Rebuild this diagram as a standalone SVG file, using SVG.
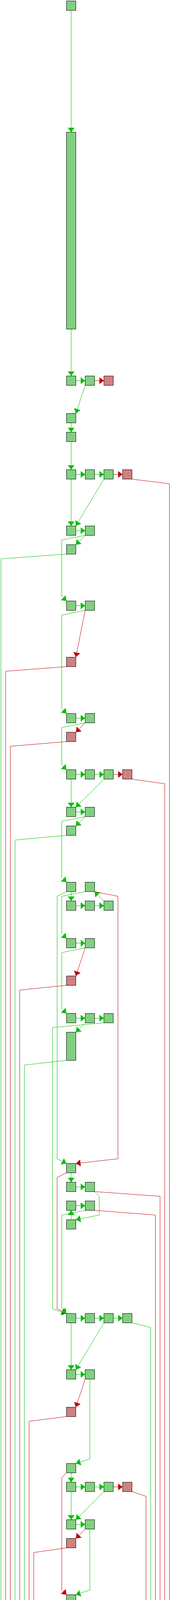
<svg xmlns="http://www.w3.org/2000/svg" width="436" height="6604" viewBox="0 0 436 6604">
<style>
.g{fill:#80d080;stroke:#000;stroke-width:1}
.r{fill:#d08080;stroke:#000;stroke-width:1}
.eg{fill:none;stroke:#00c000;stroke-width:1;marker-end:url(#ag)}
.er{fill:none;stroke:#c00000;stroke-width:1;marker-end:url(#ar)}
</style>
<defs>
<marker id="ag" markerUnits="userSpaceOnUse" markerWidth="12" markerHeight="18" refX="12" refY="9" orient="auto" viewBox="0 0 12 18"><path d="M0,0L12,9L0,18z" fill="#00c000"/></marker>
<marker id="ar" markerUnits="userSpaceOnUse" markerWidth="12" markerHeight="18" refX="12" refY="9" orient="auto" viewBox="0 0 12 18"><path d="M0,0L12,9L0,18z" fill="#c00000"/></marker>
</defs>
<rect x="0" y="0" width="436" height="6604" fill="#fff"/>
<g id="connectors">
<path class="eg" d="M182.5,26.5V338.5"/>
<path class="eg" d="M182.5,842.5V962.5"/>
<path class="eg" d="M194.5,974.5H218.5"/>
<path class="er" d="M242.5,974.5H266.5"/>
<path class="eg" d="M218.5,986.5L194.5,1058.5"/>
<path class="eg" d="M182.5,1082.5V1106.5"/>
<path class="eg" d="M182.5,1130.5V1202.5"/>
<path class="eg" d="M194.5,1214.5H218.5"/>
<path class="eg" d="M242.5,1214.5H266.5"/>
<path class="er" d="M290.5,1214.5H314.5"/>
<path class="er" d="M338.5,1226.5L434.5,1238.5V6038.5L194.5,6050.5"/>
<path class="eg" d="M182.5,1226.5V1346.5"/>
<path class="eg" d="M266.5,1226.5L194.5,1346.5"/>
<path class="eg" d="M194.5,1358.5H218.5"/>
<path class="eg" d="M218.5,1370.5L194.5,1394.5"/>
<path class="eg" d="M218.5,1370.5L158.5,1382.5V1526.5L170.5,1538.5"/>
<path class="eg" d="M170.5,1418.5L2.5,1430.5V6038.5L170.5,6050.5"/>
<path class="eg" d="M194.5,1550.5H218.5"/>
<path class="er" d="M218.5,1562.5L194.5,1682.5"/>
<path class="eg" d="M218.5,1562.5L158.5,1574.5V1814.5L170.5,1826.5"/>
<path class="er" d="M170.5,1706.5L14.5,1718.5V6038.5L170.5,6050.5"/>
<path class="eg" d="M194.5,1838.5H218.5"/>
<path class="er" d="M218.5,1850.5L194.5,1874.5"/>
<path class="eg" d="M218.5,1850.5L158.5,1862.5V1958.5L170.5,1970.5"/>
<path class="er" d="M170.5,1898.5L26.5,1910.5V6038.5L170.5,6050.5"/>
<path class="eg" d="M194.5,1982.5H218.5"/>
<path class="eg" d="M242.5,1982.5H266.5"/>
<path class="er" d="M290.5,1982.5H314.5"/>
<path class="er" d="M338.5,1994.5L422.5,2006.5V6038.5L194.5,6050.5"/>
<path class="eg" d="M182.5,1994.5V2066.5"/>
<path class="eg" d="M266.5,1994.5L194.5,2066.5"/>
<path class="eg" d="M194.5,2078.5H218.5"/>
<path class="eg" d="M218.5,2090.5L194.5,2114.5"/>
<path class="eg" d="M218.5,2090.5L158.5,2102.5V2246.5L170.5,2258.5"/>
<path class="eg" d="M170.5,2138.5L38.5,2150.5V6038.5L170.5,6050.5"/>
<path class="eg" d="M182.5,2282.5V2306.5"/>
<path class="eg" d="M194.5,2318.5H218.5"/>
<path class="eg" d="M242.5,2318.5H266.5"/>
<path class="eg" d="M266.5,2306.5L242.5,2282.5"/>
<path class="eg" d="M170.5,2282.5L146.5,2294.5V2966.5L170.5,2978.5"/>
<path class="eg" d="M218.5,2282.5L158.5,2294.5V2390.5L170.5,2402.5"/>
<path class="er" d="M242.5,2282.5L302.5,2294.5V2966.5L194.5,2978.5"/>
<path class="eg" d="M194.5,2414.5H218.5"/>
<path class="er" d="M218.5,2426.5L194.5,2498.5"/>
<path class="eg" d="M218.5,2426.5L158.5,2438.5V2582.5L170.5,2594.5"/>
<path class="er" d="M170.5,2522.5L50.5,2534.5V6038.5L170.5,6050.5"/>
<path class="eg" d="M194.5,2606.5H218.5"/>
<path class="eg" d="M242.5,2606.5H266.5"/>
<path class="eg" d="M218.5,2618.5L194.5,2642.5"/>
<path class="eg" d="M266.5,2618.5L134.5,2630.5V3350.5L170.5,3362.5"/>
<path class="eg" d="M170.5,2714.5L62.5,2726.5V6038.5L170.5,6050.5"/>
<path class="eg" d="M182.5,3002.5V3026.5"/>
<path class="er" d="M170.5,3002.5L146.5,3014.5V3350.5L170.5,3362.5"/>
<path class="eg" d="M194.5,3038.5H218.5"/>
<path class="er" d="M242.5,3050.5L410.5,3062.5V6038.5L194.5,6050.5"/>
<path class="eg" d="M242.5,3050.5L254.5,3062.5V3110.5L194.5,3122.5"/>
<path class="eg" d="M194.5,3086.5H218.5"/>
<path class="eg" d="M182.5,3122.5V3098.5"/>
<path class="eg" d="M218.5,3098.5L158.5,3110.5V3350.5L170.5,3362.5"/>
<path class="er" d="M242.5,3098.5L398.5,3110.5V6038.5L194.5,6050.5"/>
<path class="eg" d="M194.5,3374.5H218.5"/>
<path class="eg" d="M242.5,3374.5H266.5"/>
<path class="eg" d="M290.5,3374.5H314.5"/>
<path class="eg" d="M338.5,3386.5L386.5,3398.5V6038.5L194.5,6050.5"/>
<path class="eg" d="M182.5,3386.5V3506.5"/>
<path class="eg" d="M266.5,3386.5L194.5,3506.5"/>
<path class="eg" d="M194.5,3518.5H218.5"/>
<path class="er" d="M218.5,3530.5L194.5,3602.5"/>
<path class="eg" d="M230.5,3530.5V3734.5L194.5,3746.5"/>
<path class="er" d="M170.5,3626.5L74.5,3638.5V6038.5L170.5,6050.5"/>
<path class="eg" d="M182.5,3770.5V3794.5"/>
<path class="er" d="M170.5,3770.5L158.5,3782.5V4070.5L170.5,4082.5"/>
<path class="eg" d="M194.5,3806.5H218.5"/>
<path class="eg" d="M242.5,3806.5H266.5"/>
<path class="er" d="M290.5,3806.5H314.5"/>
<path class="er" d="M338.5,3818.5L374.5,3830.5V6038.5L194.5,6050.5"/>
<path class="eg" d="M182.5,3818.5V3890.5"/>
<path class="eg" d="M266.5,3818.5L194.5,3890.5"/>
<path class="eg" d="M194.5,3902.5H218.5"/>
<path class="er" d="M218.5,3914.5L194.5,3938.5"/>
<path class="eg" d="M230.5,3914.5V4070.5L194.5,4082.5"/>
<path class="er" d="M170.5,3962.5L86.5,3974.5V6038.5L170.5,6050.5"/>
<path class="eg" d="M182.5,4106.5V4130.5"/>
<path class="er" d="M170.5,4106.5L158.5,4118.5V4886.5L170.5,4898.5"/>
<path class="eg" d="M182.5,4154.5V4226.5"/>
<path class="eg" d="M194.5,4238.5H218.5"/>
<path class="eg" d="M242.5,4238.5H266.5"/>
<path class="er" d="M290.5,4238.5H314.5"/>
<path class="er" d="M338.5,4250.5L362.5,4262.5V6038.5L194.5,6050.5"/>
<path class="eg" d="M182.5,4250.5V4322.5"/>
<path class="eg" d="M266.5,4250.5L194.5,4322.5"/>
<path class="eg" d="M194.5,4334.5H218.5"/>
<path class="eg" d="M218.5,4346.5L194.5,4370.5"/>
<path class="eg" d="M230.5,4346.5V4454.5L194.5,4466.5"/>
<path class="eg" d="M170.5,4394.5L98.5,4406.5V6038.5L170.5,6050.5"/>
<path class="eg" d="M182.5,4490.5V4898.5"/>
<path class="eg" d="M194.5,4910.5H218.5"/>
<path class="eg" d="M218.5,4922.5L194.5,4946.5"/>
<path class="eg" d="M230.5,4922.5V5222.5L194.5,5234.5"/>
<path class="eg" d="M182.5,4970.5V5234.5"/>
<path class="eg" d="M182.5,5258.5V5330.5"/>
<path class="eg" d="M194.5,5342.5H218.5"/>
<path class="eg" d="M242.5,5342.5H266.5"/>
<path class="er" d="M290.5,5342.5H314.5"/>
<path class="er" d="M338.5,5354.5L350.5,5366.5V6038.5L194.5,6050.5"/>
<path class="eg" d="M182.5,5354.5V5426.5"/>
<path class="eg" d="M266.5,5354.5L194.5,5426.5"/>
<path class="eg" d="M194.5,5438.5H218.5"/>
<path class="eg" d="M218.5,5450.5L194.5,5474.5"/>
<path class="eg" d="M218.5,5450.5L158.5,5462.5V5558.5L170.5,5570.5"/>
<path class="eg" d="M170.5,5498.5L110.5,5510.5V6038.5L170.5,6050.5"/>
<path class="eg" d="M194.5,5582.5H218.5"/>
<path class="eg" d="M242.5,5582.5H266.5"/>
<path class="er" d="M170.5,5594.5L146.5,5606.5V5798.5L170.5,5810.5"/>
<path class="eg" d="M266.5,5594.5L134.5,5606.5V5798.5L170.5,5810.5"/>
<path class="eg" d="M266.5,5594.5L194.5,5618.5"/>
<path class="eg" d="M194.5,5630.5H218.5"/>
<path class="er" d="M218.5,5642.5L194.5,5666.5"/>
<path class="eg" d="M218.5,5642.5L158.5,5654.5V5798.5L170.5,5810.5"/>
<path class="er" d="M170.5,5690.5L122.5,5702.5V6038.5L170.5,6050.5"/>
<path class="eg" d="M194.5,5822.5H218.5"/>
<path class="eg" d="M242.5,5822.5H266.5"/>
<path class="er" d="M290.5,5822.5H314.5"/>
<path class="er" d="M326.5,5834.5V6038.5L194.5,6050.5"/>
<path class="eg" d="M182.5,5834.5V5906.5"/>
<path class="eg" d="M266.5,5834.5L194.5,5906.5"/>
<path class="eg" d="M182.5,5930.5V6050.5"/>
<path class="eg" d="M182.5,6074.5V6098.5"/>
<path class="eg" d="M182.5,6122.5V6146.5"/>
<path class="eg" d="M182.5,6170.5V6194.5"/>
<path class="eg" d="M182.5,6218.5V6242.5"/>
<path class="eg" d="M182.5,6266.5V6290.5"/>
<path class="eg" d="M182.5,6314.5V6338.5"/>
<path class="eg" d="M182.5,6362.5V6386.5"/>
<path class="eg" d="M182.5,6410.5V6434.5"/>
<path class="eg" d="M182.5,6458.5V6482.5"/>
<path class="eg" d="M182.5,6506.5V6530.5"/>
<path class="eg" d="M182.5,6554.5V6578.5"/>
</g>
<g id="nodes">
<g id="n0"><rect class="g" x="170.5" y="2.5" width="24" height="24"/></g>
<g id="n7"><rect class="g" x="170.5" y="338.5" width="24" height="504"/></g>
<g id="n20a"><rect class="g" x="170.5" y="962.5" width="24" height="24"/></g>
<g id="n20b"><rect class="g" x="218.5" y="962.5" width="24" height="24"/></g>
<g id="n20c"><rect class="r" x="266.5" y="962.5" width="24" height="24"/></g>
<g id="n22"><rect class="g" x="170.5" y="1058.5" width="24" height="24"/></g>
<g id="n23"><rect class="g" x="170.5" y="1106.5" width="24" height="24"/></g>
<g id="n25a"><rect class="g" x="170.5" y="1202.5" width="24" height="24"/></g>
<g id="n25b"><rect class="g" x="218.5" y="1202.5" width="24" height="24"/></g>
<g id="n25c"><rect class="g" x="266.5" y="1202.5" width="24" height="24"/></g>
<g id="n25d"><rect class="r" x="314.5" y="1202.5" width="24" height="24"/></g>
<g id="n28a"><rect class="g" x="170.5" y="1346.5" width="24" height="24"/></g>
<g id="n28b"><rect class="g" x="218.5" y="1346.5" width="24" height="24"/></g>
<g id="n29"><rect class="g" x="170.5" y="1394.5" width="24" height="24"/></g>
<g id="n32a"><rect class="g" x="170.5" y="1538.5" width="24" height="24"/></g>
<g id="n32b"><rect class="g" x="218.5" y="1538.5" width="24" height="24"/></g>
<g id="n35"><rect class="r" x="170.5" y="1682.5" width="24" height="24"/></g>
<g id="n38a"><rect class="g" x="170.5" y="1826.5" width="24" height="24"/></g>
<g id="n38b"><rect class="g" x="218.5" y="1826.5" width="24" height="24"/></g>
<g id="n39"><rect class="r" x="170.5" y="1874.5" width="24" height="24"/></g>
<g id="n41a"><rect class="g" x="170.5" y="1970.5" width="24" height="24"/></g>
<g id="n41b"><rect class="g" x="218.5" y="1970.5" width="24" height="24"/></g>
<g id="n41c"><rect class="g" x="266.5" y="1970.5" width="24" height="24"/></g>
<g id="n41d"><rect class="r" x="314.5" y="1970.5" width="24" height="24"/></g>
<g id="n43a"><rect class="g" x="170.5" y="2066.5" width="24" height="24"/></g>
<g id="n43b"><rect class="g" x="218.5" y="2066.5" width="24" height="24"/></g>
<g id="n44"><rect class="g" x="170.5" y="2114.5" width="24" height="24"/></g>
<g id="n47a"><rect class="g" x="170.5" y="2258.5" width="24" height="24"/></g>
<g id="n47b"><rect class="g" x="218.5" y="2258.5" width="24" height="24"/></g>
<g id="n48a"><rect class="g" x="170.5" y="2306.5" width="24" height="24"/></g>
<g id="n48b"><rect class="g" x="218.5" y="2306.5" width="24" height="24"/></g>
<g id="n48c"><rect class="g" x="266.5" y="2306.5" width="24" height="24"/></g>
<g id="n50a"><rect class="g" x="170.5" y="2402.5" width="24" height="24"/></g>
<g id="n50b"><rect class="g" x="218.5" y="2402.5" width="24" height="24"/></g>
<g id="n52"><rect class="r" x="170.5" y="2498.5" width="24" height="24"/></g>
<g id="n54a"><rect class="g" x="170.5" y="2594.5" width="24" height="24"/></g>
<g id="n54b"><rect class="g" x="218.5" y="2594.5" width="24" height="24"/></g>
<g id="n54c"><rect class="g" x="266.5" y="2594.5" width="24" height="24"/></g>
<g id="n55"><rect class="g" x="170.5" y="2642.5" width="24" height="72"/></g>
<g id="n62"><rect class="g" x="170.5" y="2978.5" width="24" height="24"/></g>
<g id="n63a"><rect class="g" x="170.5" y="3026.5" width="24" height="24"/></g>
<g id="n63b"><rect class="g" x="218.5" y="3026.5" width="24" height="24"/></g>
<g id="n64a"><rect class="g" x="170.5" y="3074.5" width="24" height="24"/></g>
<g id="n64b"><rect class="g" x="218.5" y="3074.5" width="24" height="24"/></g>
<g id="n65"><rect class="g" x="170.5" y="3122.5" width="24" height="24"/></g>
<g id="n70a"><rect class="g" x="170.5" y="3362.5" width="24" height="24"/></g>
<g id="n70b"><rect class="g" x="218.5" y="3362.5" width="24" height="24"/></g>
<g id="n70c"><rect class="g" x="266.5" y="3362.5" width="24" height="24"/></g>
<g id="n70d"><rect class="g" x="314.5" y="3362.5" width="24" height="24"/></g>
<g id="n73a"><rect class="g" x="170.5" y="3506.5" width="24" height="24"/></g>
<g id="n73b"><rect class="g" x="218.5" y="3506.5" width="24" height="24"/></g>
<g id="n75"><rect class="r" x="170.5" y="3602.5" width="24" height="24"/></g>
<g id="n78"><rect class="g" x="170.5" y="3746.5" width="24" height="24"/></g>
<g id="n79a"><rect class="g" x="170.5" y="3794.5" width="24" height="24"/></g>
<g id="n79b"><rect class="g" x="218.5" y="3794.5" width="24" height="24"/></g>
<g id="n79c"><rect class="g" x="266.5" y="3794.5" width="24" height="24"/></g>
<g id="n79d"><rect class="r" x="314.5" y="3794.5" width="24" height="24"/></g>
<g id="n81a"><rect class="g" x="170.5" y="3890.5" width="24" height="24"/></g>
<g id="n81b"><rect class="g" x="218.5" y="3890.5" width="24" height="24"/></g>
<g id="n82"><rect class="r" x="170.5" y="3938.5" width="24" height="24"/></g>
<g id="n85"><rect class="g" x="170.5" y="4082.5" width="24" height="24"/></g>
<g id="n86"><rect class="g" x="170.5" y="4130.5" width="24" height="24"/></g>
<g id="n88a"><rect class="g" x="170.5" y="4226.5" width="24" height="24"/></g>
<g id="n88b"><rect class="g" x="218.5" y="4226.5" width="24" height="24"/></g>
<g id="n88c"><rect class="g" x="266.5" y="4226.5" width="24" height="24"/></g>
<g id="n88d"><rect class="r" x="314.5" y="4226.5" width="24" height="24"/></g>
<g id="n90a"><rect class="g" x="170.5" y="4322.5" width="24" height="24"/></g>
<g id="n90b"><rect class="g" x="218.5" y="4322.5" width="24" height="24"/></g>
<g id="n91"><rect class="g" x="170.5" y="4370.5" width="24" height="24"/></g>
<g id="n93"><rect class="g" x="170.5" y="4466.5" width="24" height="24"/></g>
<g id="n102a"><rect class="g" x="170.5" y="4898.5" width="24" height="24"/></g>
<g id="n102b"><rect class="g" x="218.5" y="4898.5" width="24" height="24"/></g>
<g id="n103"><rect class="g" x="170.5" y="4946.5" width="24" height="24"/></g>
<g id="n109"><rect class="g" x="170.5" y="5234.5" width="24" height="24"/></g>
<g id="n111a"><rect class="g" x="170.5" y="5330.5" width="24" height="24"/></g>
<g id="n111b"><rect class="g" x="218.5" y="5330.5" width="24" height="24"/></g>
<g id="n111c"><rect class="g" x="266.5" y="5330.5" width="24" height="24"/></g>
<g id="n111d"><rect class="r" x="314.5" y="5330.5" width="24" height="24"/></g>
<g id="n113a"><rect class="g" x="170.5" y="5426.5" width="24" height="24"/></g>
<g id="n113b"><rect class="g" x="218.5" y="5426.5" width="24" height="24"/></g>
<g id="n114"><rect class="g" x="170.5" y="5474.5" width="24" height="24"/></g>
<g id="n116a"><rect class="g" x="170.5" y="5570.5" width="24" height="24"/></g>
<g id="n116b"><rect class="g" x="218.5" y="5570.5" width="24" height="24"/></g>
<g id="n116c"><rect class="g" x="266.5" y="5570.5" width="24" height="24"/></g>
<g id="n117a"><rect class="g" x="170.5" y="5618.5" width="24" height="24"/></g>
<g id="n117b"><rect class="g" x="218.5" y="5618.5" width="24" height="24"/></g>
<g id="n118"><rect class="r" x="170.5" y="5666.5" width="24" height="24"/></g>
<g id="n121a"><rect class="g" x="170.5" y="5810.5" width="24" height="24"/></g>
<g id="n121b"><rect class="g" x="218.5" y="5810.5" width="24" height="24"/></g>
<g id="n121c"><rect class="g" x="266.5" y="5810.5" width="24" height="24"/></g>
<g id="n121d"><rect class="r" x="314.5" y="5810.5" width="24" height="24"/></g>
<g id="n123"><rect class="g" x="170.5" y="5906.5" width="24" height="24"/></g>
<g id="n126"><rect class="g" x="170.5" y="6050.5" width="24" height="24"/></g>
<g id="n127"><rect class="g" x="170.5" y="6098.5" width="24" height="24"/></g>
<g id="n128"><rect class="g" x="170.5" y="6146.5" width="24" height="24"/></g>
<g id="n129"><rect class="g" x="170.5" y="6194.5" width="24" height="24"/></g>
<g id="n130"><rect class="g" x="170.5" y="6242.5" width="24" height="24"/></g>
<g id="n131"><rect class="g" x="170.5" y="6290.5" width="24" height="24"/></g>
<g id="n132"><rect class="g" x="170.5" y="6338.5" width="24" height="24"/></g>
<g id="n133"><rect class="g" x="170.5" y="6386.5" width="24" height="24"/></g>
<g id="n134"><rect class="g" x="170.5" y="6434.5" width="24" height="24"/></g>
<g id="n135"><rect class="g" x="170.5" y="6482.5" width="24" height="24"/></g>
<g id="n136"><rect class="g" x="170.5" y="6530.5" width="24" height="24"/></g>
<g id="n137"><rect class="g" x="170.5" y="6578.5" width="24" height="24"/></g>
</g>
</svg>
